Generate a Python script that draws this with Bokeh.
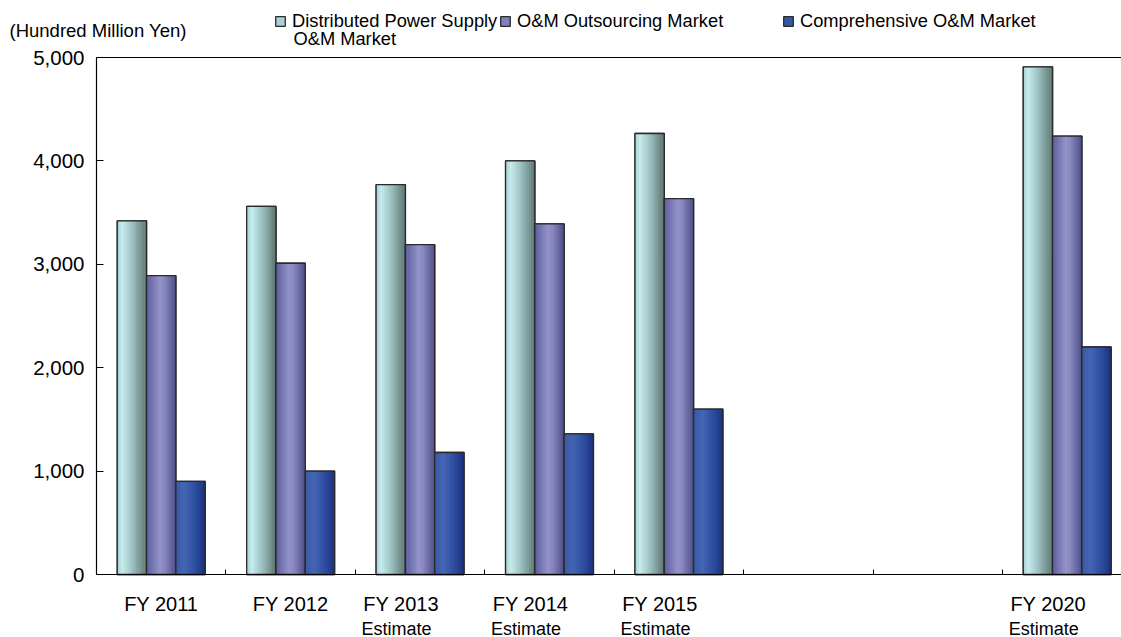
import numpy as np
from bokeh.plotting import figure
from bokeh.models import (ColumnDataSource, Range1d, FixedTicker, NumeralTickFormatter,
                          LinearAxis, Legend, LegendItem, LabelSet, Label)
from bokeh.core.properties import value
from bokeh.embed import file_html
from bokeh.resources import INLINE

# ---------------- data ----------------
categories = ["FY 2011", "FY 2012", "FY 2013", "FY 2014", "FY 2015", "FY 2020"]
sublabels = ["", "", "Estimate", "Estimate", "Estimate", "Estimate"]
slot_index = [0, 1, 2, 3, 4, 7]          # slot on the 8-slot category axis
n_slots = 8
series_names = ["Distributed Power Supply", "O&M Outsourcing Market", "Comprehensive O&M Market"]
legend_second_line = "O&M Market"
distributed = [3420, 3560, 3770, 4000, 4265, 4910]
outsourcing = [2890, 3010, 3190, 3390, 3635, 4240]
comprehensive = [900, 1000, 1180, 1360, 1600, 2200]
y_ticks = [0, 1000, 2000, 3000, 4000, 5000]
y_max = 5000
unit_label = "(Hundred Million Yen)"

# ---------------- layout / style ----------------
FONT = "Liberation Sans"
W, H = 1121, 637
AX_LEFT, AX_TOP, AX_BOTTOM = 96, 57, 574      # screen pixels of the plotting box
SLOT_PX = (1002 - 96) / 7.0
PX_PER_UNIT_Y = (AX_BOTTOM - AX_TOP) / y_max

x_start = -AX_LEFT / SLOT_PX
x_end = (W - AX_LEFT) / SLOT_PX
y_start = -(H - AX_BOTTOM) / PX_PER_UNIT_Y
y_end = y_max + AX_TOP / PX_PER_UNIT_Y

grad_stops = [
    [(0.0, "#a6d0d3"), (0.18, "#c8ecee"), (0.5, "#a0c4c4"), (1.0, "#5a736f")],
    [(0.0, "#5c5c9c"), (0.45, "#9494c9"), (0.6, "#8a8ac2"), (1.0, "#4c4c86")],
    [(0.0, "#3a5aa8"), (0.3, "#4566b4"), (0.7, "#2c4b9e"), (1.0, "#1b2f78")],
]
legend_cols = ["#a9d2d4", "#8080bc", "#3656a6"]


def hex2rgb(h):
    h = h.lstrip("#")
    return np.array([int(h[i:i + 2], 16) for i in (0, 2, 4)], dtype=float)


def lerp(stops, t):
    for (t0, c0), (t1, c1) in zip(stops[:-1], stops[1:]):
        if t0 <= t <= t1:
            f = (t - t0) / (t1 - t0)
            c = hex2rgb(c0) * (1 - f) + hex2rgb(c1) * f
            return "#%02x%02x%02x" % tuple(int(round(v)) for v in c)
    return stops[-1][1]


p = figure(width=W, height=H, output_backend="svg", toolbar_location=None,
           x_range=Range1d(x_start, x_end), y_range=Range1d(y_start, y_end),
           min_border_left=0, min_border_right=0, min_border_top=0, min_border_bottom=0)
p.grid.visible = False
p.outline_line_color = None
p.background_fill_color = "white"
p.border_fill_color = "white"

# x axis (bottom of plotting box): boundary ticks pointing inward
xa = p.xaxis[0]
xa.fixed_location = 0
xa.bounds = (0, x_end)
xa.ticker = FixedTicker(ticks=[], minor_ticks=list(range(1, n_slots)))
xa.major_label_text_font_size = "0px"
xa.major_tick_in = 0
xa.major_tick_out = 0
xa.minor_tick_in = 5
xa.minor_tick_out = 0
xa.minor_tick_line_color = "black"
xa.axis_line_color = "black"
xa.axis_line_width = 1.2

# y axis
ya = p.yaxis[0]
ya.fixed_location = 0
ya.bounds = (0, y_max)
ya.ticker = FixedTicker(ticks=y_ticks)
ya.formatter = NumeralTickFormatter(format="0,0")
ya.major_tick_in = 7
ya.major_tick_out = 0
ya.minor_tick_in = 0
ya.minor_tick_out = 0
ya.major_label_text_font = FONT
ya.major_label_text_font_size = "20.5px"
ya.major_label_text_color = "black"
ya.major_label_standoff = 12
ya.axis_line_color = "black"
ya.axis_line_width = 1.2
ya.major_tick_line_color = "black"

# top line of the plotting box
top_ax = LinearAxis(fixed_location=y_max, bounds=(0, x_end), ticker=FixedTicker(ticks=[]),
                    major_tick_in=0, major_tick_out=0, minor_tick_in=0, minor_tick_out=0,
                    major_label_text_font_size="0px", axis_line_color="black",
                    axis_line_width=1.2)
p.add_layout(top_ax, "above")

# ---------------- bars ----------------
slot_centers = np.array(slot_index, dtype=float) + 0.5
bw = 29.3 / SLOT_PX
offsets = [-bw, 0.0, bw]
nstrip = 14
base_renderers = []
for vals, off, stops, lc in zip([distributed, outsourcing, comprehensive], offsets,
                                grad_stops, legend_cols):
    xs = slot_centers + off
    src = ColumnDataSource(dict(x=xs, top=vals))
    base = p.vbar(x="x", top="top", width=bw, bottom=0, source=src,
                  fill_color=lc, line_color="#2a2a2a", line_width=1.3)
    base_renderers.append(base)
    for k in range(nstrip):
        t = (k + 0.5) / nstrip
        p.vbar(x=xs - bw / 2 + t * bw, top=vals, bottom=0, width=bw / nstrip * 1.1,
               fill_color=lerp(stops, t), line_color=None)
    p.vbar(x="x", top="top", width=bw, bottom=0, source=src,
           fill_color=None, line_color="#2a2a2a", line_width=1.3)

# ---------------- legends ----------------
LEG_FS = "18.3px"
legend_x = [274, 499, 782]
for r, name, vx in zip(base_renderers, series_names, legend_x):
    lg = Legend(items=[LegendItem(label=name, renderers=[r])], location=(vx, H - 32),
                orientation="horizontal", glyph_width=12, glyph_height=12,
                label_text_font=FONT, label_text_font_size=LEG_FS, label_text_color="black",
                label_standoff=6, padding=0, margin=0, spacing=0,
                border_line_color=None, background_fill_alpha=0)
    p.add_layout(lg)

p.add_layout(Label(x=0, y=y_max, x_offset=293 - AX_LEFT, y_offset=AX_TOP - 38,
                   text=legend_second_line, text_font=FONT, text_font_size=LEG_FS,
                   text_baseline="middle", text_align="left", text_color="black"))
p.add_layout(Label(x=0, y=y_max, x_offset=9 - AX_LEFT, y_offset=AX_TOP - 30, text=unit_label,
                   text_font=FONT, text_font_size="18.5px", text_baseline="middle",
                   text_align="left", text_color="black"))

# ---------------- category labels ----------------
fy_dx = [-19 if s else 0 for s in sublabels]
fy_src = ColumnDataSource(dict(x=slot_centers, y=[0] * len(categories), text=categories, dx=fy_dx))
p.add_layout(LabelSet(x="x", y="y", text="text", x_offset="dx", y_offset=-29, source=fy_src,
                      text_font=value(FONT), text_font_size=value("20px"), text_align="center",
                      text_baseline="middle", text_color="black"))
est_idx = [i for i, s in enumerate(sublabels) if s]
est_src = ColumnDataSource(dict(x=[slot_centers[i] for i in est_idx], y=[0] * len(est_idx),
                                text=[sublabels[i] for i in est_idx]))
p.add_layout(LabelSet(x="x", y="y", text="text", x_offset=-58.5, y_offset=-54, source=est_src,
                      text_font=value(FONT), text_font_size=value("18px"), text_align="left",
                      text_baseline="middle", text_color="black"))

open("out.html", "w").write(file_html(p, INLINE))
